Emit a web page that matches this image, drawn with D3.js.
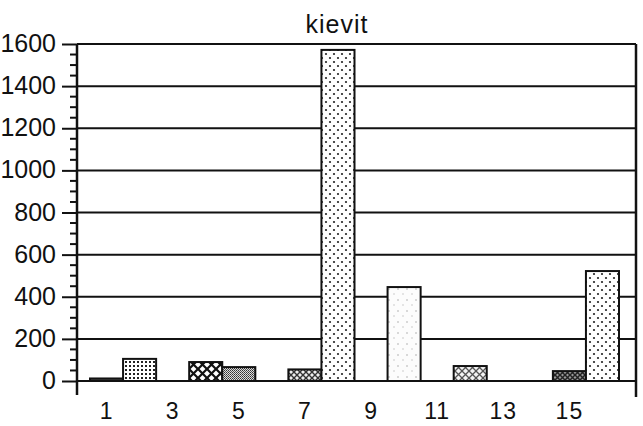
<!DOCTYPE html>
<html lang="en">
<head>
    <meta charset="UTF-8">
    <title>kievit</title>
    <script src="https://cdnjs.cloudflare.com/ajax/libs/d3/7.8.5/d3.min.js"></script>
    <style>
        body {
            margin: 0;
            background: #fff;
            font-family: "Liberation Sans", Arial, sans-serif;
        }
        svg { display: block; }
    </style>
</head>
<body>
    <svg id="chart" width="643" height="426"></svg>
    <script>
        // Data
        const title = "kievit";
        const categories = d3.range(1, 17);
        const values = [12, 105, 0, 90, 66, 0, 55, 1572, 0, 446, 0, 71, 0, 0, 47, 522];
        const xTickLabels = [1, 3, 5, 7, 9, 11, 13, 15];
        const yTicks = [0, 200, 400, 600, 800, 1000, 1200, 1400, 1600];

        // fill pattern per category (style, kept apart from the data)
        const patternOf = {
            1: "pDark", 2: "pGrid", 4: "pLattice", 5: "pFine", 7: "pHatch",
            8: "pDots", 10: "pLight", 12: "pLattice2", 15: "pHatchDark", 16: "pDots"
        };

        const svg = d3.select("#chart");
        const plot = { left: 77, right: 636, top: 44, bottom: 381 };

        const x = d3.scaleBand()
            .domain(categories)
            .range([90, 619])
            .padding(0);

        const y = d3.scaleLinear()
            .domain([0, 1600])
            .range([plot.bottom, plot.top]);

        // patterns
        const defs = svg.append("defs");

        let p = defs.append("pattern").attr("id", "pDark")
            .attr("patternUnits", "userSpaceOnUse").attr("width", 3).attr("height", 3);
        p.append("rect").attr("width", 3).attr("height", 3).attr("fill", "#444");
        p.append("rect").attr("width", 1).attr("height", 1).attr("fill", "#999");

        p = defs.append("pattern").attr("id", "pGrid")
            .attr("patternUnits", "userSpaceOnUse").attr("width", 4).attr("height", 4);
        p.append("rect").attr("width", 4).attr("height", 4).attr("fill", "#fff");
        p.append("rect").attr("x", 1).attr("y", 1).attr("width", 2).attr("height", 2).attr("fill", "#222");

        p = defs.append("pattern").attr("id", "pLattice")
            .attr("patternUnits", "userSpaceOnUse").attr("width", 9).attr("height", 9);
        p.append("rect").attr("width", 9).attr("height", 9).attr("fill", "#fff");
        p.append("path").attr("d", "M0,0L9,9M9,0L0,9").attr("stroke", "#111").attr("stroke-width", 2.2);

        p = defs.append("pattern").attr("id", "pFine")
            .attr("patternUnits", "userSpaceOnUse").attr("width", 2).attr("height", 2);
        p.append("rect").attr("width", 2).attr("height", 2).attr("fill", "#ddd");
        p.append("rect").attr("width", 1).attr("height", 1).attr("fill", "#333");
        p.append("rect").attr("x", 1).attr("y", 1).attr("width", 1).attr("height", 1).attr("fill", "#555");

        p = defs.append("pattern").attr("id", "pHatch")
            .attr("patternUnits", "userSpaceOnUse").attr("width", 6).attr("height", 6);
        p.append("rect").attr("width", 6).attr("height", 6).attr("fill", "#eee");
        p.append("path").attr("d", "M0,0L6,6M6,0L0,6").attr("stroke", "#333").attr("stroke-width", 1.4);

        p = defs.append("pattern").attr("id", "pDots")
            .attr("patternUnits", "userSpaceOnUse").attr("width", 8).attr("height", 8);
        p.append("rect").attr("width", 8).attr("height", 8).attr("fill", "#fff");
        p.append("circle").attr("cx", 2).attr("cy", 2).attr("r", 1.1).attr("fill", "#222");
        p.append("circle").attr("cx", 6).attr("cy", 6).attr("r", 1.1).attr("fill", "#222");

        p = defs.append("pattern").attr("id", "pLight")
            .attr("patternUnits", "userSpaceOnUse").attr("width", 9).attr("height", 11);
        p.append("rect").attr("width", 9).attr("height", 11).attr("fill", "#fcfcfc");
        p.append("circle").attr("cx", 2).attr("cy", 3).attr("r", 1).attr("fill", "#ccc");
        p.append("circle").attr("cx", 7).attr("cy", 8).attr("r", 1).attr("fill", "#ddd");

        p = defs.append("pattern").attr("id", "pLattice2")
            .attr("patternUnits", "userSpaceOnUse").attr("width", 7).attr("height", 7);
        p.append("rect").attr("width", 7).attr("height", 7).attr("fill", "#f4f4f4");
        p.append("path").attr("d", "M0,0L7,7M7,0L0,7").attr("stroke", "#555").attr("stroke-width", 1.3);

        p = defs.append("pattern").attr("id", "pHatchDark")
            .attr("patternUnits", "userSpaceOnUse").attr("width", 5).attr("height", 5);
        p.append("rect").attr("width", 5).attr("height", 5).attr("fill", "#999");
        p.append("path").attr("d", "M0,0L5,5M5,0L0,5").attr("stroke", "#222").attr("stroke-width", 1.5);

        // gridlines
        svg.append("g")
            .selectAll("line")
            .data(yTicks)
            .join("line")
            .attr("x1", plot.left)
            .attr("x2", plot.right)
            .attr("y1", d => y(d))
            .attr("y2", d => y(d))
            .attr("stroke", "#111")
            .attr("stroke-width", 2);

        // y axis: major ticks every 200, minor every 50
        const yAxis = d3.axisLeft(y)
            .tickValues(yTicks)
            .tickFormat(d3.format("d"))
            .tickSize(15)
            .tickPadding(6)
            .tickSizeOuter(0);

        const gy = svg.append("g")
            .attr("transform", `translate(${plot.left},0)`)
            .call(yAxis);
        gy.select(".domain").remove();
        gy.selectAll(".tick line").attr("stroke", "#111").attr("stroke-width", 2);
        gy.selectAll(".tick text")
            .attr("font-family", "'Liberation Sans', Arial, sans-serif")
            .attr("font-size", 25)
            .attr("fill", "#111")
            .attr("dy", "0.3em");

        svg.append("g")
            .selectAll("line")
            .data(d3.range(0, 1601, 50).filter(v => v % 200 !== 0))
            .join("line")
            .attr("x1", plot.left - 7)
            .attr("x2", plot.left)
            .attr("y1", d => y(d))
            .attr("y2", d => y(d))
            .attr("stroke", "#111")
            .attr("stroke-width", 2);

        // frame verticals (extend a little below zero)
        svg.append("line")
            .attr("x1", plot.left).attr("x2", plot.left)
            .attr("y1", plot.top).attr("y2", plot.bottom + 14)
            .attr("stroke", "#111").attr("stroke-width", 2.5);
        svg.append("line")
            .attr("x1", plot.right).attr("x2", plot.right)
            .attr("y1", plot.top).attr("y2", plot.bottom + 16)
            .attr("stroke", "#111").attr("stroke-width", 2.5);

        // bars
        svg.append("g")
            .selectAll("rect")
            .data(categories.map((c, i) => ({ c, v: values[i] })).filter(d => d.v > 0))
            .join("rect")
            .attr("x", d => x(d.c))
            .attr("width", x.bandwidth())
            .attr("y", d => y(d.v))
            .attr("height", d => y(0) - y(d.v))
            .attr("fill", d => `url(#${patternOf[d.c]})`)
            .attr("stroke", "#111")
            .attr("stroke-width", 2);

        // x axis labels (no ticks)
        const xAxis = d3.axisBottom(x)
            .tickValues(xTickLabels)
            .tickSize(0)
            .tickPadding(22);
        const gx = svg.append("g")
            .attr("transform", `translate(0,${plot.bottom})`)
            .call(xAxis);
        gx.select(".domain").remove();
        gx.selectAll(".tick text")
            .attr("font-family", "'Liberation Sans', Arial, sans-serif")
            .attr("font-size", 23)
            .attr("letter-spacing", 1)
            .attr("fill", "#111");

        // title
        svg.append("text")
            .attr("x", 337)
            .attr("y", 33)
            .attr("text-anchor", "middle")
            .attr("font-family", "'Liberation Sans', Arial, sans-serif")
            .attr("font-size", 25)
            .attr("letter-spacing", 1)
            .attr("fill", "#111")
            .text(title);
    </script>
</body>
</html>
